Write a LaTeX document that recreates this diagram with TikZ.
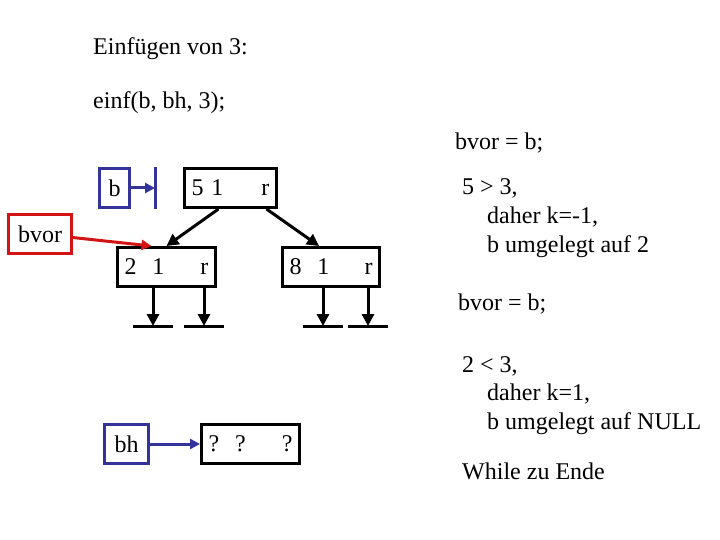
\documentclass[tikz,border=0pt]{standalone}
\usepackage{fontspec}
\setmainfont{Liberation Serif}
\usetikzlibrary{arrows.meta}
\definecolor{ptrblue}{RGB}{51,51,153}
\definecolor{ptrred}{RGB}{210,20,20}
\tikzset{txt/.style={anchor=base west, inner sep=0pt},
  rec/.style={draw, line width=3pt, minimum height=39pt, inner xsep=7pt, inner ysep=0pt, text width=#1, anchor=north west},
  ptr/.style={draw=ptrblue, line width=3pt, minimum height=39pt, inner sep=2pt, anchor=north west},
  vor/.style={draw=ptrred, line width=3pt, minimum height=39pt, inner sep=2pt, anchor=north west},
  arr/.style={line width=3pt, -{Triangle[length=12pt,width=12pt]}},
  barr/.style={ptrblue, line width=3pt, -{Triangle[length=10pt,width=10pt]}},
  rarr/.style={ptrred, line width=3pt, -{Triangle[length=10pt,width=10pt]}},
  gnd/.style={line width=3pt}}

\begin{document}
\begin{tikzpicture}[x=1pt,y=-1pt,font=\fontsize{24}{29}\selectfont]
\useasboundingbox (0,0) rectangle (720,540);
% heading
\node[txt] (t1) at (93,55) {Einfügen von 3:};
\node[txt] (t2) at (93,109) {einf(b, bh, 3);};
% tree
\node[rec=78pt] (w) at (183,167) {5 1\hfill r};
\node[rec=84pt] (wl) at (116,246) {2\ \ 1\hfill r};
\node[rec=83pt] (wr) at (281,246) {8\ \ 1\hfill r};
\draw[arr] ([xshift=-12pt]w.south) -- (wl.north);
\draw[arr] ([xshift=36pt]w.south) -- ([xshift=-12pt]wr.north);
% null pointers
\foreach \x/\s in {153/wl, 204/wl, 323/wr, 368/wr} {
  \coordinate (n\x) at (\x,326);
  \draw[arr] (\s.south -| n\x) -- (n\x);
  \draw[gnd] ([xshift=-20pt]n\x) -- ([xshift=20pt]n\x);
}
% b and bvor
\node[ptr, minimum width=30pt] (b) at (98,167) {b};
\coordinate (bn) at (155,186.5);
\draw[ptrblue, line width=3pt] (bn |- b.north) -- (bn |- b.south);
\draw[barr] (b.east) -- (b.east -| bn);
\node[vor, minimum width=63pt] (bv) at (7,213) {bvor};
\draw[rarr] (bv) -- ([xshift=-15pt]wl.north);
% bh
\node[ptr, minimum width=44pt] (bh) at (103,423) {bh};
\node[rec=84pt] (q) at (200,423) {?\ \ ?\hfill ?};
\draw[barr] (bh.east) -- (q.west);
% comments on the right
\node[txt] (c1) at (455,150) {bvor = b;};
\node[txt] (c2) at (462,195) {5 > 3,};
\node[txt] (c3) at (487,224) {daher k=-1,};
\node[txt] (c4) at (487,252) {b umgelegt auf 2};
\node[txt] (c5) at (458,310) {bvor = b;};
\node[txt] (c6) at (462,372) {2 < 3,};
\node[txt] (c7) at (487,400) {daher k=1,};
\node[txt] (c8) at (487,429) {b umgelegt auf NULL};
\node[txt] (c9) at (462,479) {While zu Ende};
\end{tikzpicture}
\end{document}
